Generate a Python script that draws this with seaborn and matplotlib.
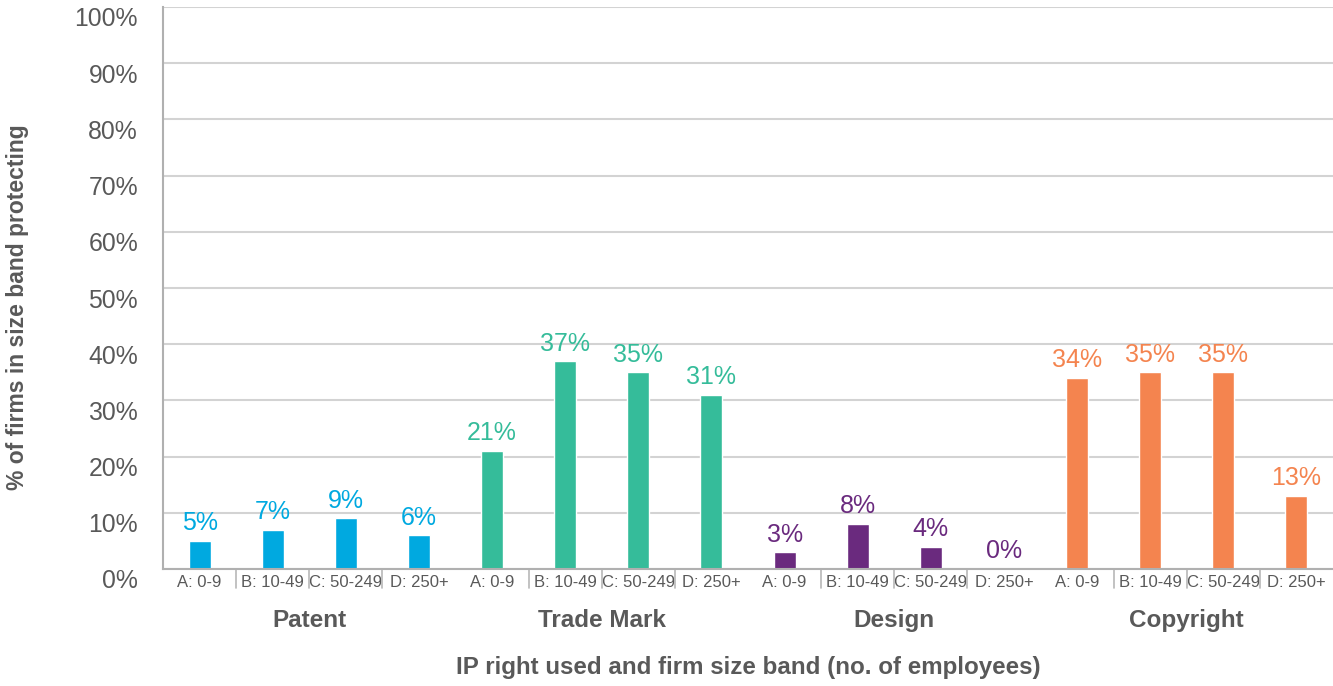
import matplotlib
matplotlib.use("Agg")
import matplotlib.pyplot as plt
import matplotlib.transforms as mtransforms
import pandas as pd
import seaborn as sns

# IP rights and firm size bands
rights = ["Patent", "Trade Mark", "Design", "Copyright"]
bands = ["A: 0-9", "B: 10-49", "C: 50-249", "D: 250+"]

# % of firms in each size band protecting with each right
patent = [5, 7, 9, 6]
trade_mark = [21, 37, 35, 31]
design = [3, 8, 4, 0]
copyright_ = [34, 35, 35, 13]

colors = {"Patent": "#00A9E0", "Trade Mark": "#35BC9A",
          "Design": "#6A2A7E", "Copyright": "#F4844F"}

values = [patent, trade_mark, design, copyright_]
rows = []
for r, vals in zip(rights, values):
    for b, v in zip(bands, vals):
        rows.append({"slot": f"{r}|{b}", "right": r, "band": b, "value": v})
df = pd.DataFrame(rows)

sns.set_theme(style="white")
plt.rcParams["font.family"] = ["Liberation Sans", "DejaVu Sans"]

text_gray = "#595959"
fig = plt.figure(figsize=(13.33, 6.86), dpi=100)
ax = fig.add_axes([163 / 1333, 117 / 686, 1170 / 1333, 562 / 686])

sns.barplot(data=df, x="slot", y="value", hue="right", palette=colors,
            dodge=False, width=0.3, saturation=1, legend=False, ax=ax)

ax.set_ylim(0, 100)
ax.set_xlim(-0.5, len(df) - 0.5)
ax.set_yticks(range(0, 101, 10))
ax.set_yticklabels([f"{t}%" for t in range(0, 101, 10)], fontsize=17.8, color=text_gray)
ax.yaxis.grid(True, color="#d3d3d3", linewidth=1.5)
ax.set_axisbelow(True)
ax.tick_params(axis="y", length=0, pad=18)
ax.tick_params(axis="x", length=0, pad=4)
ax.set_xticks(range(len(df)))
ax.set_xticklabels(df["band"], fontsize=12, color=text_gray)
ax.set_xlabel("")
ax.set_ylabel("")

# y tick labels sit slightly below their gridlines
shift = mtransforms.ScaledTranslation(0, -10 / 100, fig.dpi_scale_trans)
for lbl in ax.get_yticklabels():
    lbl.set_transform(lbl.get_transform() + shift)

for side in ["top", "right"]:
    ax.spines[side].set_visible(False)
for side in ["left", "bottom"]:
    ax.spines[side].set_color("#b0b0b0")
    ax.spines[side].set_linewidth(1.5)

# Value labels above each bar
for patch, (_, row) in zip(ax.patches, df.iterrows()):
    x = patch.get_x() + patch.get_width() / 2
    ax.annotate(f"{row['value']}%", (x, row["value"]), xytext=(0, 4),
                textcoords="offset points", ha="center", va="bottom",
                fontsize=18, color=colors[row["right"]])

# Separators between size bands and group labels under each right
trans = mtransforms.blended_transform_factory(ax.transData, ax.transAxes)
n = len(bands)
for g, r in enumerate(rights):
    for k in range(n - 1):
        xs = g * n + k + 0.5
        ax.plot([xs, xs], [0, -0.033], transform=trans, color="#b8b8b8",
                linewidth=1.2, clip_on=False)
    ax.text(g * n + (n - 1) / 2, -0.092, r, transform=trans, ha="center",
            va="center", fontsize=17.5, fontweight="bold", color=text_gray)

ax.text(0.5, -0.175, "IP right used and firm size band (no. of employees)",
        transform=ax.transAxes, ha="center", va="center", fontsize=17.4,
        fontweight="bold", color=text_gray)
fig.text(18 / 1333, 1 - 307 / 686, "% of firms in size band protecting",
         rotation=90, ha="center", va="center", fontsize=16.5,
         fontweight="bold", color=text_gray)

fig.savefig("out.png", dpi=100)
